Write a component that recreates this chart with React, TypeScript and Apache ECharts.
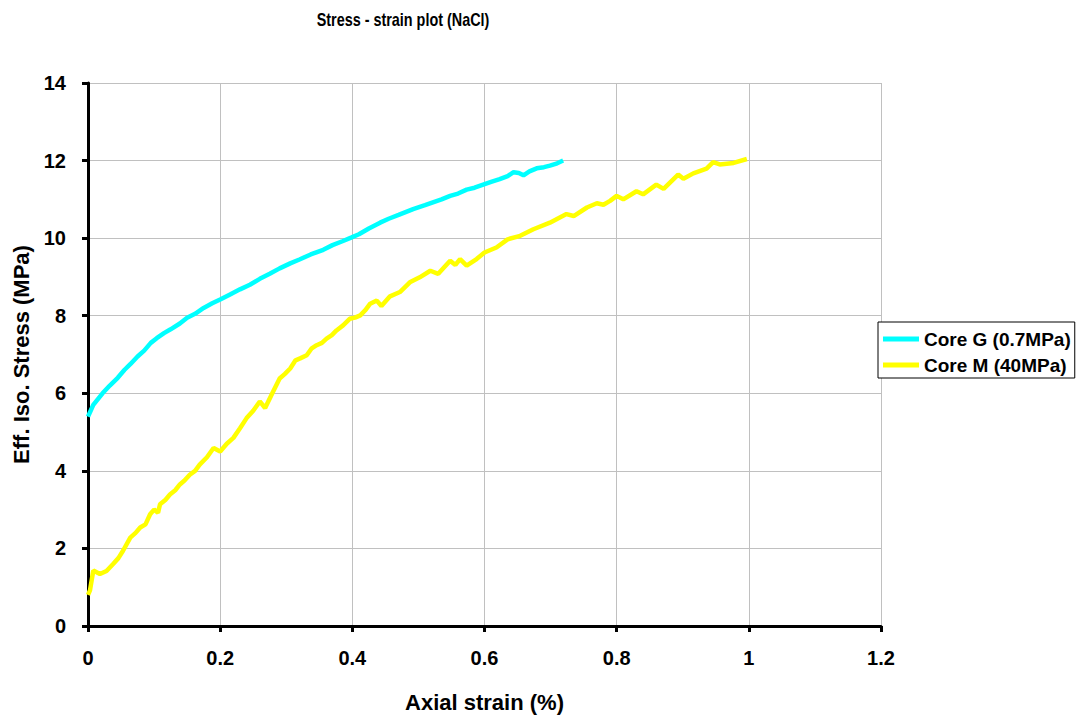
import React, { useEffect, useRef } from "react";
import * as echarts from "echarts";

const title = "Stress - strain plot (NaCl)";
const xAxisName = "Axial strain (%)";
const yAxisName = "Eff. Iso. Stress (MPa)";
const seriesNames = ["Core G (0.7MPa)", "Core M (40MPa)"];

const coreGStrain = [0, 0.004, 0.008, 0.015, 0.022, 0.033, 0.045, 0.055, 0.064, 0.075, 0.085, 0.095, 0.104, 0.115, 0.125, 0.139, 0.15, 0.162, 0.175, 0.188, 0.2, 0.215, 0.23, 0.245, 0.26, 0.275, 0.29, 0.306, 0.32, 0.337, 0.356, 0.37, 0.385, 0.399, 0.41, 0.425, 0.442, 0.455, 0.47, 0.492, 0.51, 0.523, 0.535, 0.548, 0.56, 0.573, 0.585, 0.598, 0.61, 0.623, 0.635, 0.644, 0.652, 0.659, 0.668, 0.679, 0.69, 0.699, 0.71, 0.719];
const coreGStress = [5.4, 5.55, 5.7, 5.85, 6.0, 6.2, 6.4, 6.6, 6.75, 6.95, 7.1, 7.3, 7.42, 7.55, 7.65, 7.8, 7.95, 8.05, 8.2, 8.32, 8.42, 8.55, 8.68, 8.8, 8.95, 9.08, 9.22, 9.35, 9.45, 9.58, 9.7, 9.82, 9.92, 10.02, 10.1, 10.25, 10.4, 10.5, 10.6, 10.75, 10.85, 10.93, 11.0, 11.09, 11.15, 11.25, 11.3, 11.38, 11.45, 11.52, 11.6, 11.7, 11.68, 11.62, 11.72, 11.8, 11.83, 11.87, 11.93, 12.0];

const coreMStrain = [0, 0.003, 0.008, 0.018, 0.028, 0.038, 0.046, 0.053, 0.064, 0.072, 0.079, 0.087, 0.094, 0.1, 0.106, 0.109, 0.117, 0.124, 0.132, 0.139, 0.146, 0.154, 0.162, 0.169, 0.18, 0.19, 0.2, 0.21, 0.22, 0.23, 0.24, 0.25, 0.26, 0.268, 0.28, 0.29, 0.298, 0.306, 0.314, 0.321, 0.331, 0.338, 0.346, 0.354, 0.361, 0.369, 0.376, 0.386, 0.396, 0.404, 0.412, 0.42, 0.427, 0.437, 0.444, 0.457, 0.472, 0.487, 0.502, 0.518, 0.53, 0.548, 0.556, 0.563, 0.573, 0.588, 0.6, 0.618, 0.635, 0.654, 0.674, 0.699, 0.724, 0.735, 0.755, 0.77, 0.78, 0.79, 0.8, 0.81, 0.83, 0.84, 0.86, 0.871, 0.893, 0.901, 0.916, 0.936, 0.946, 0.956, 0.977, 0.997];
const coreMStress = [0.8, 0.92, 1.43, 1.34, 1.42, 1.6, 1.75, 1.94, 2.28, 2.4, 2.54, 2.62, 2.88, 3.0, 2.92, 3.14, 3.25, 3.39, 3.5, 3.65, 3.75, 3.9, 4.0, 4.16, 4.35, 4.59, 4.5, 4.7, 4.85, 5.1, 5.36, 5.55, 5.79, 5.62, 6.04, 6.38, 6.5, 6.64, 6.85, 6.9, 6.98, 7.15, 7.24, 7.3, 7.41, 7.5, 7.62, 7.75, 7.92, 7.95, 8.01, 8.15, 8.31, 8.39, 8.25, 8.5, 8.61, 8.86, 8.99, 9.16, 9.08, 9.42, 9.31, 9.46, 9.29, 9.46, 9.63, 9.76, 9.97, 10.06, 10.23, 10.4, 10.62, 10.57, 10.79, 10.9, 10.86, 10.96, 11.09, 11.0, 11.21, 11.13, 11.38, 11.27, 11.64, 11.53, 11.67, 11.79, 11.96, 11.9, 11.94, 12.04];

const xTicks = { min: 0, max: 1.2, interval: 0.2 };
const yTicks = { min: 0, max: 14, interval: 2 };

const zip = (xs: number[], ys: number[]) => xs.map((x, i) => [x, ys[i]]);

const FONT = "'Liberation Sans', Arial, sans-serif";

export default function App() {
  const ref = useRef<HTMLDivElement>(null);
  useEffect(() => {
    if (!ref.current) return;
    const chart = echarts.init(ref.current, undefined, { renderer: "svg" });
    chart.setOption({
      animation: false,
      backgroundColor: "#ffffff",
      graphic: [
        {
          type: "text",
          x: 403,
          y: 19,
          scaleX: 0.8,
          style: {
            text: title,
            textAlign: "center",
            textVerticalAlign: "middle",
            fontFamily: FONT,
            fontSize: 18,
            fontWeight: "bold",
            fill: "#000",
          },
        },
      ],
      grid: { left: 88, right: 198, top: 83, bottom: 89, containLabel: false },
      legend: {
        orient: "vertical",
        left: 878,
        top: 322,
        backgroundColor: "#fff",
        borderColor: "#000",
        borderWidth: 1,
        padding: [7, 4, 3, 5],
        itemGap: 6,
        itemWidth: 36,
        itemHeight: 5,
        icon: "rect",
        textStyle: { fontFamily: FONT, fontSize: 19, lineHeight: 20, fontWeight: "bold", color: "#000" },
        data: seriesNames,
      },
      xAxis: {
        type: "value",
        min: xTicks.min,
        max: xTicks.max,
        interval: xTicks.interval,
        name: xAxisName,
        nameLocation: "middle",
        nameGap: 65,
        nameTextStyle: { fontFamily: FONT, fontSize: 22, fontWeight: "bold", color: "#000" },
        axisLine: { show: true, onZero: false, lineStyle: { color: "#000", width: 3 } },
        axisTick: { show: true, inside: false, length: 6, lineStyle: { color: "#000", width: 3 } },
        axisLabel: {
          margin: 22,
          fontFamily: FONT,
          fontSize: 20,
          fontWeight: "bold",
          color: "#000",
          formatter: (v: number) => String(Math.round(v * 10) / 10),
        },
        splitLine: { show: true, lineStyle: { color: "#c0c0c0", width: 1 } },
      },
      yAxis: {
        type: "value",
        min: yTicks.min,
        max: yTicks.max,
        interval: yTicks.interval,
        name: yAxisName,
        nameLocation: "middle",
        nameGap: 53,
        nameRotate: 90,
        nameTextStyle: { fontFamily: FONT, fontSize: 22, fontWeight: "bold", color: "#000" },
        axisLine: { show: true, onZero: false, lineStyle: { color: "#000", width: 3 } },
        axisTick: { show: true, inside: false, length: 6, lineStyle: { color: "#000", width: 3 } },
        axisLabel: { margin: 22, fontFamily: FONT, fontSize: 20, fontWeight: "bold", color: "#000" },
        splitLine: { show: true, lineStyle: { color: "#c0c0c0", width: 1 } },
      },
      series: [
        {
          name: seriesNames[0],
          type: "line",
          data: zip(coreGStrain, coreGStress),
          showSymbol: false,
          symbol: "none",
          lineStyle: { color: "#00ffff", width: 4.5 },
          itemStyle: { color: "#00ffff" },
        },
        {
          name: seriesNames[1],
          type: "line",
          data: zip(coreMStrain, coreMStress),
          showSymbol: false,
          symbol: "none",
          lineStyle: { color: "#ffff00", width: 4.5 },
          itemStyle: { color: "#ffff00" },
        },
      ],
    });
    return () => chart.dispose();
  }, []);
  return (
    <div
      ref={ref}
      style={{ position: "absolute", left: 0, top: 0, width: 1079, height: 718 }}
    />
  );
}
